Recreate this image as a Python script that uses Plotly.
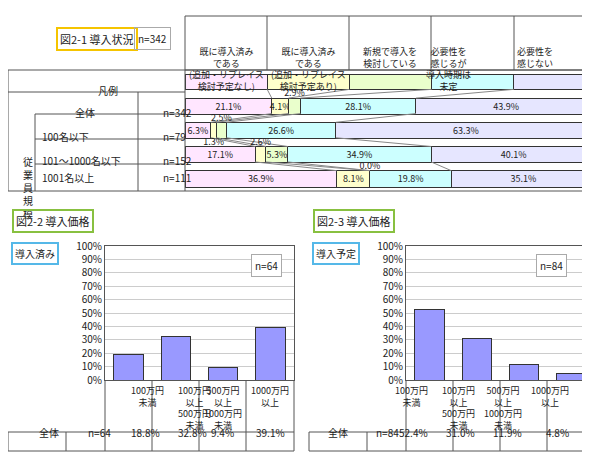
import plotly.graph_objects as go

W, H = 590, 457
FONT = "Noto Sans CJK JP"

# ---- data ----
status_cols = ["既に導入済み<br>である<br>(追加・リプレイス<br>検討予定なし)",
               "既に導入済み<br>である<br>(追加・リプレイス<br>検討予定あり)",
               "新規で導入を<br>検討している",
               "必要性を<br>感じるが<br>導入時期は<br>未定",
               "必要性を<br>感じない"]
status_colors = ["#ffe6ff", "#ffffcc", "#eaffcc", "#ccffff", "#e6e6ff"]
row_names = ["凡例", "全体", "100名以下", "101～1000名以下", "1001名以上"]
row_n = ["", "n=342", "n=79", "n=152", "n=111"]
legend_row = [20, 20, 20, 20, 20]
all_row = [21.1, 4.1, 2.9, 28.1, 43.9]
s100 = [6.3, 1.3, 2.5, 26.6, 63.3]
s1000 = [17.1, 2.6, 5.3, 34.9, 40.1]
s1001 = [36.9, 8.1, 0.0, 19.8, 35.1]
status_rows = [legend_row, all_row, s100, s1000, s1001]

price_cats = ["100万円<br>未満", "100万円<br>以上<br>500万円<br>未満",
              "500万円<br>以上<br>1000万円<br>未満", "1000万円<br>以上"]
done_vals = [18.8, 32.8, 9.4, 39.1]
plan_vals = [52.4, 31.0, 11.9, 4.8]


def px(x):
    return x / W


def py(y):
    return 1 - y / H


fig = go.Figure()
shapes = []
ann = []


def line(x0, y0, x1, y1, color="#555", width=1):
    shapes.append(dict(type="line", xref="paper", yref="paper", x0=px(x0), y0=py(y0),
                       x1=px(x1), y1=py(y1), line=dict(color=color, width=width)))


def text(x, y, t, size=10, **kw):
    ann.append(dict(x=px(x), y=py(y), xref="paper", yref="paper", text=t, showarrow=False,
                    font=dict(size=size, family=FONT, color="#222"), **kw))


# ---- fig 2-1 ----
rows_y = [62, 84, 106, 131, 156, 183]
for i in range(5):
    fig.add_trace(go.Bar(
        y=list(range(5)), x=[r[i] for r in status_rows], orientation="h",
        marker=dict(color=status_colors[i], line=dict(color="#333", width=1)),
        width=[0.6] + [0.68] * 4, xaxis="x", yaxis="y", showlegend=False,
        text=["" if j == 0 or status_rows[j][i] < 4 else f"{status_rows[j][i]}%" for j in range(5)],
        textposition="inside", insidetextanchor="middle", constraintext="none",
        textfont=dict(size=9, family=FONT, color="#222")))

# connector lines between rows
for j in range(4):
    a, b = status_rows[j], status_rows[j + 1]
    ca = cb = 0
    for i in range(4):
        ca += a[i]
        cb += b[i]
        fig.add_trace(go.Scatter(x=[ca, cb], y=[j + 0.3, j + 1 - 0.34], mode="lines",
                                 line=dict(color="#888", width=1), xaxis="x", yaxis="y",
                                 showlegend=False, hoverinfo="skip"))
# small values labels
for j in range(1, 5):
    c = 0
    for i in range(5):
        v = status_rows[j][i]
        if v < 4:
            yy = j + 0.5 if (j == 2 and i == 1) else j - 0.5
            fig.add_trace(go.Scatter(x=[c + v / 2], y=[yy], mode="text", text=[f"{v}%"],
                                     textfont=dict(size=9, family=FONT, color="#222"),
                                     xaxis="x", yaxis="y", showlegend=False))
        c += v

# header
hx = [177, 259, 341, 423, 506, 588]
shapes.append(dict(type="rect", xref="paper", yref="paper", x0=px(177), x1=px(588),
                   y0=py(62), y1=py(8), line=dict(color="#555", width=1)))
for k in range(5):
    if k > 0:
        line(hx[k], 8, hx[k], 62)
    text((hx[k] + hx[k + 1]) / 2, 35, status_cols[k], size=9)
# left table
line(0, 62, 588, 62)
for y in rows_y[1:]:
    line(0 if y in (84, 183) else 27, y, 177, y)
line(177, 183, 588, 183)
line(0, 62, 0, 183)
line(177, 62, 177, 183)
line(130, 84, 130, 183)
line(27, 106, 27, 183)
text(88, 73, row_names[0])
text(65, 95, row_names[1])
text(153, 95, row_n[1])
for j in range(2, 5):
    text(32, (rows_y[j] + rows_y[j + 1]) / 2, row_names[j], xanchor="left")
    text(153, (rows_y[j] + rows_y[j + 1]) / 2, row_n[j])
text(13, 144, "従<br>業<br>員<br>規<br>模", size=10)
text(48, 19, "図2-1 導入状況", size=11, bgcolor="#fff", bordercolor="#f5c400", borderwidth=2, borderpad=2)
text(126, 19, "n=342", size=10, bordercolor="#aaa", borderwidth=1, borderpad=3)

# ---- fig 2-2 / 2-3 ----
def price_chart(ox, vals, n, title, sub, ax):
    xa, ya = "x" + ax, "y" + ax
    fig.add_trace(go.Bar(x=list(range(4)), y=vals, xaxis=xa, yaxis=ya, width=0.62,
                         marker=dict(color="#9999ff", line=dict(color="#333", width=1)),
                         showlegend=False))
    fig.update_layout(**{
        "xaxis" + ax: dict(domain=[px(ox + 97), px(ox + 286)], range=[-0.5, 3.5],
                           showticklabels=False, showgrid=False, zeroline=False,
                           showline=True, linecolor="#555", mirror=True, anchor="y" + ax),
        "yaxis" + ax: dict(domain=[py(372), py(238)], range=[0, 100], dtick=10,
                           ticksuffix="%", gridcolor="#ccc", zeroline=False,
                           showline=True, linecolor="#555", mirror=True, anchor="x" + ax,
                           tickfont=dict(size=10, family=FONT, color="#222")),
    })
    cx = [ox + 97, ox + 144, ox + 191, ox + 238, ox + 286]
    for x in cx:
        line(x, 372, x, 443)
    line(ox, 424, ox + 286, 424)
    line(ox, 443, ox + 286, 443)
    line(ox, 424, ox, 443)
    line(ox + 58, 424, ox + 58, 443)
    for k in range(4):
        text((cx[k] + cx[k + 1]) / 2, 374, price_cats[k], size=9, yanchor="top")
        text((cx[k] + cx[k + 1]) / 2, 434, f"{vals[k]}%", size=10)
    text(ox + 29, 434, "全体")
    text(ox + 78, 434, n)
    text(ox + 258, 257, n, bordercolor="#aaa", borderwidth=1, borderpad=3, bgcolor="#fff")
    text(ox + 4, 213, title, size=11, xanchor="left", bordercolor="#88c040",
         borderwidth=2, borderpad=2)
    text(ox + 3, 245, sub, size=10, xanchor="left", bordercolor="#55b8e8",
         borderwidth=2, borderpad=2)


price_chart(0, done_vals, "n=64", "図2-2 導入価格", "導入済み", "2")
price_chart(301, plan_vals, "n=84", "図2-3 導入価格", "導入予定", "3")

fig.update_layout(
    width=W, height=H, margin=dict(l=0, r=0, t=0, b=0, autoexpand=False),
    paper_bgcolor="white", plot_bgcolor="white", barmode="stack",
    font=dict(family=FONT, size=10, color="#222"),
    xaxis=dict(domain=[px(177), px(588)], range=[0, 100], visible=False, anchor="y"),
    yaxis=dict(domain=[py(183), py(62)], range=[4.5, -0.5], visible=False, anchor="x"),
    shapes=shapes, annotations=ann,
)
fig.write_html("out.html")
